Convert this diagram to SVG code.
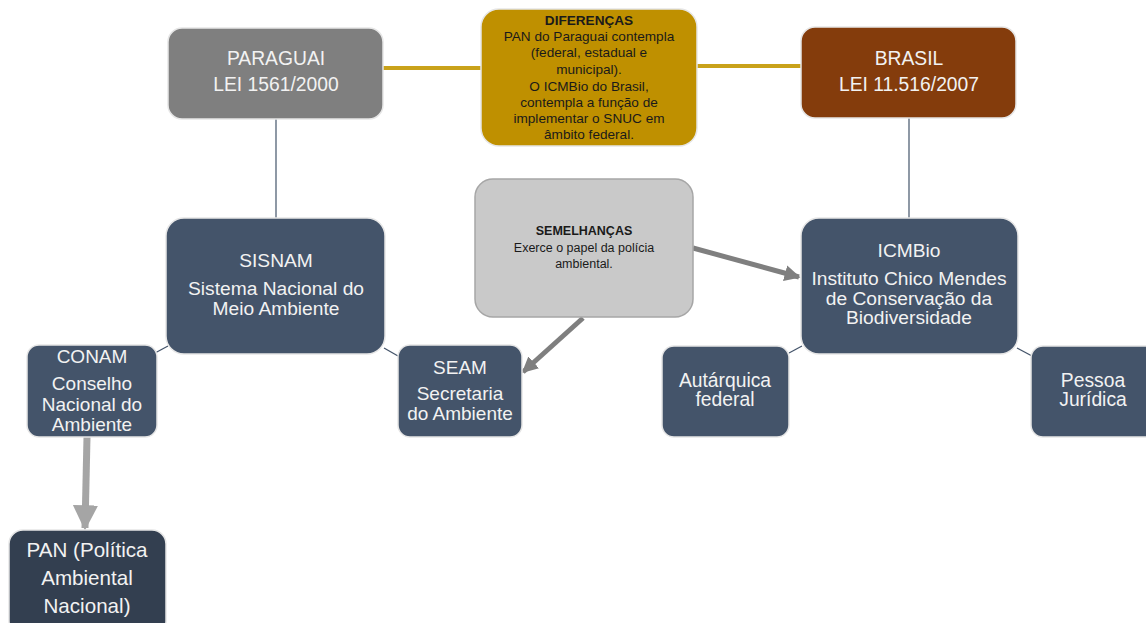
<svg xmlns="http://www.w3.org/2000/svg" width="1146" height="623" viewBox="0 0 1146 623">
<defs>
<style>
.box{stroke:#e6e6e6;stroke-width:1.5}
.dark{fill:#44546a}
.t{font-family:"Liberation Sans",Arial,sans-serif;fill:#f2f2f2;text-anchor:middle}
.s{font-family:"Liberation Sans",Arial,sans-serif;fill:#1a1a1a;text-anchor:middle}
.d{font-size:13.6px}
.e{font-size:12.5px}
.thin{stroke:#44546a;stroke-width:1.2;fill:none}
</style>
<marker id="ahG" viewBox="0 0 10 10" refX="9" refY="5" markerWidth="3.2" markerHeight="3.4" orient="auto" markerUnits="strokeWidth"><path d="M0,0 L10,5 L0,10 z" fill="#7f7f7f"/></marker>
<marker id="ahL" viewBox="0 0 10 10" refX="9" refY="5" markerWidth="3.6" markerHeight="3.6" orient="auto" markerUnits="strokeWidth"><path d="M0,0 L10,5 L0,10 z" fill="#a5a5a5"/></marker>
</defs>
<rect width="1146" height="623" fill="#ffffff"/>
<g id="connectors">
<line x1="383" y1="68" x2="481" y2="68" stroke="#c9a21a" stroke-width="4"/>
<line x1="697" y1="66" x2="801" y2="66" stroke="#c9a21a" stroke-width="4"/>
<line class="thin" x1="276" y1="119" x2="276" y2="218"/>
<line class="thin" x1="909" y1="118" x2="909" y2="218"/>
<line class="thin" x1="155" y1="353" x2="168" y2="346"/>
<line class="thin" x1="384" y1="348" x2="398" y2="356"/>
<line class="thin" x1="789" y1="353" x2="802" y2="346"/>
<line class="thin" x1="1017" y1="348" x2="1032" y2="356"/>
<line x1="87" y1="437" x2="85" y2="528" stroke="#a5a5a5" stroke-width="7" marker-end="url(#ahL)"/>
<line x1="693" y1="248" x2="799" y2="277" stroke="#7f7f7f" stroke-width="5" marker-end="url(#ahG)"/>
<line x1="583" y1="318" x2="523" y2="372" stroke="#7f7f7f" stroke-width="5" marker-end="url(#ahG)"/>
</g>
<g id="paraguai">
<rect class="box" x="168" y="28" width="215" height="91" rx="14" fill="#7f7f7f"/>
<text class="t" font-size="19.3" x="276" y="65">PARAGUAI</text>
<text class="t" font-size="19.3" x="276" y="91">LEI 1561/2000</text>
</g>
<g id="diferencas">
<rect class="box" x="481" y="9" width="216" height="137" rx="18" fill="#bf9000"/>
<text class="s d" x="589" y="25" font-weight="bold">DIFERENÇAS</text>
<text class="s d" x="589" y="41">PAN do Paraguai contempla</text>
<text class="s d" x="589" y="57">(federal, estadual e</text>
<text class="s d" x="589" y="74">municipal).</text>
<text class="s d" x="589" y="91">O ICMBio do Brasil,</text>
<text class="s d" x="589" y="107">contempla a função de</text>
<text class="s d" x="589" y="123">implementar o SNUC em</text>
<text class="s d" x="589" y="139">âmbito federal.</text>
</g>
<g id="brasil">
<rect class="box" x="801" y="27" width="215" height="91" rx="14" fill="#843c0c"/>
<text class="t" font-size="19.3" x="909" y="65">BRASIL</text>
<text class="t" font-size="19.3" x="909" y="91">LEI 11.516/2007</text>
</g>
<g id="sisnam">
<rect class="box dark" x="166" y="218" width="219" height="136" rx="18"/>
<text class="t" font-size="19.2" x="276" y="267">SISNAM</text>
<text class="t" font-size="19.2" x="276" y="295">Sistema Nacional do</text>
<text class="t" font-size="19.2" x="276" y="315">Meio Ambiente</text>
</g>
<g id="semelhancas">
<rect x="475" y="179" width="218" height="138" rx="18" fill="#c9c9c9" stroke="#a6a6a6" stroke-width="1.5"/>
<text class="s e" x="584" y="235" font-weight="bold">SEMELHANÇAS</text>
<text class="s e" x="584" y="252">Exerce o papel da polícia</text>
<text class="s e" x="584" y="268">ambiental.</text>
</g>
<g id="icmbio">
<rect class="box dark" x="801" y="218" width="217" height="136" rx="18"/>
<text class="t" font-size="19.2" x="909" y="257">ICMBio</text>
<text class="t" font-size="19.2" x="909" y="285">Instituto Chico Mendes</text>
<text class="t" font-size="19.2" x="909" y="305">de Conservação da</text>
<text class="t" font-size="19.2" x="909" y="324">Biodiversidade</text>
</g>
<g id="conam">
<rect class="box dark" x="27" y="345" width="130" height="92" rx="12"/>
<text class="t" font-size="19" x="92" y="363">CONAM</text>
<text class="t" font-size="19" x="92" y="390">Conselho</text>
<text class="t" font-size="19" x="92" y="411">Nacional do</text>
<text class="t" font-size="19" x="92" y="431">Ambiente</text>
</g>
<g id="seam">
<rect class="box dark" x="398" y="345" width="124" height="92" rx="12"/>
<text class="t" font-size="19" x="460" y="374">SEAM</text>
<text class="t" font-size="19" x="460" y="400">Secretaria</text>
<text class="t" font-size="19" x="460" y="420">do Ambiente</text>
</g>
<g id="autarquica">
<rect class="box dark" x="662" y="346" width="127" height="91" rx="12"/>
<text class="t" font-size="19.3" x="725" y="387">Autárquica</text>
<text class="t" font-size="19.3" x="725" y="406">federal</text>
</g>
<g id="pessoa">
<rect class="box dark" x="1031" y="346" width="127" height="91" rx="12"/>
<text class="t" font-size="19.3" x="1093" y="387">Pessoa</text>
<text class="t" font-size="19.3" x="1093" y="406">Jurídica</text>
</g>
<g id="pan">
<rect class="box" x="9" y="530" width="157" height="105" rx="14" fill="#333f50"/>
<text class="t" font-size="20.6" x="87" y="557">PAN (Política</text>
<text class="t" font-size="20.6" x="87" y="585">Ambiental</text>
<text class="t" font-size="20.6" x="87" y="613">Nacional)</text>
</g>
</svg>
